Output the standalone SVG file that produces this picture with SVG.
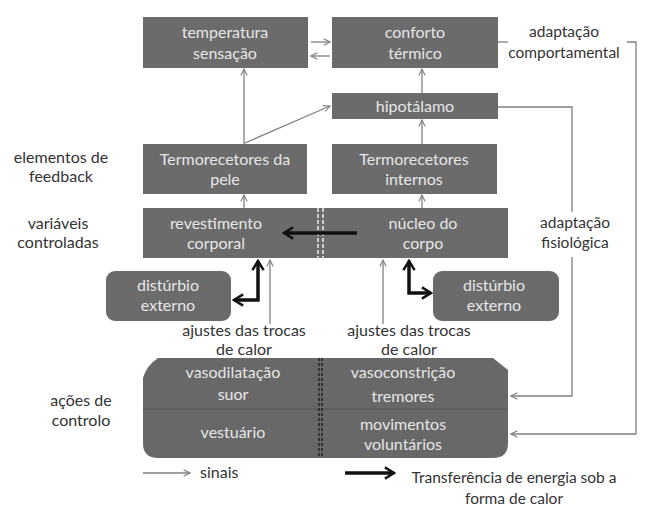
<svg xmlns="http://www.w3.org/2000/svg" width="654" height="519" viewBox="0 0 654 519">
<defs>
<style>
.box{fill:#6b6b6b}
.bt{font-family:Lato,"Open Sans",sans-serif;font-size:16px;fill:#e6e6e6;text-anchor:middle}
.lt{font-family:Lato,"Open Sans",sans-serif;font-size:15.5px;fill:#333;text-anchor:middle}
.lb{font-size:16px}
.thin{fill:none;stroke:#808080;stroke-width:1.3}
.thick{fill:none;stroke:#111;stroke-width:3.5}
</style>
<marker id="ah" viewBox="0 0 10 10" refX="9" refY="5" markerWidth="8" markerHeight="8" markerUnits="userSpaceOnUse" orient="auto-start-reverse">
<path d="M1,1 L9,5 L1,9" fill="none" stroke="#808080" stroke-width="1.4"/>
</marker>
<marker id="ahk" viewBox="0 0 10 10" refX="8.5" refY="5" markerWidth="4" markerHeight="4" orient="auto-start-reverse">
<path d="M2,1 L8.5,5 L2,9" fill="none" stroke="#111" stroke-width="1.8"/>
</marker>
</defs>
<rect width="654" height="519" fill="#fff"/>

<g id="temperatura"><rect class="box" x="143" y="17" width="165" height="51"/><text class="bt" x="225" y="38">temperatura</text><text class="bt" x="225" y="59">sensação</text></g>
<g id="conforto"><rect class="box" x="332" y="17" width="166" height="51"/><text class="bt" x="415" y="38">conforto</text><text class="bt" x="415" y="59">térmico</text></g>
<g id="hipotalamo"><rect class="box" x="332" y="93" width="166" height="26"/><text class="bt" x="415" y="112">hipotálamo</text></g>
<g id="pele"><rect class="box" x="143" y="144" width="164" height="50"/><text class="bt" x="225" y="165">Termorecetores da</text><text class="bt" x="225" y="185">pele</text></g>
<g id="internos"><rect class="box" x="332" y="144" width="165" height="50"/><text class="bt" x="414" y="165">Termorecetores</text><text class="bt" x="414" y="185">internos</text></g>
<g id="variaveis"><rect class="box" x="143" y="208" width="365" height="50"/>
<line x1="318" y1="208" x2="318" y2="258" stroke="#eee" stroke-width="1.5" stroke-dasharray="4,2"/>
<line x1="323" y1="208" x2="323" y2="258" stroke="#eee" stroke-width="1.5" stroke-dasharray="4,2"/>
<text class="bt" x="216" y="229">revestimento</text><text class="bt" x="216" y="249">corporal</text>
<text class="bt" x="423" y="229">núcleo do</text><text class="bt" x="423" y="249">corpo</text></g>
<g id="disturbio1"><rect class="box" x="106" y="271" width="125" height="50" rx="9"/><text class="bt" x="168" y="291">distúrbio</text><text class="bt" x="168" y="311">externo</text></g>
<g id="disturbio2"><rect class="box" x="433" y="271" width="126" height="50" rx="9"/><text class="bt" x="494" y="291">distúrbio</text><text class="bt" x="494" y="311">externo</text></g>
<g id="acoes"><path d="M158,358 L493,358 L508,370 L508,443 Q508,458 493,458 L158,458 Q143,458 143,443 L143,378 Q146,366 158,358 Z" fill="#686868"/>
<line x1="143" y1="409" x2="508" y2="409" stroke="#555" stroke-width="1.2"/>
<line x1="319" y1="358" x2="319" y2="458" stroke="#222" stroke-width="1.5" stroke-dasharray="3,2"/>
<line x1="322" y1="358" x2="322" y2="458" stroke="#222" stroke-width="1.5" stroke-dasharray="3,2"/>
<text class="bt" x="233" y="378">vasodilatação</text><text class="bt" x="233" y="400">suor</text><text class="bt" x="233" y="438">vestuário</text>
<text class="bt" x="403" y="378">vasoconstrição</text><text class="bt" x="403" y="402">tremores</text><text class="bt" x="403" y="430">movimentos</text><text class="bt" x="403" y="450">voluntários</text></g>

<g id="labels">
<text class="lt lb" x="61" y="163">elementos de</text><text class="lt lb" x="61" y="182">feedback</text>
<text class="lt lb" x="58" y="229">variáveis</text><text class="lt lb" x="58" y="248">controladas</text>
<text class="lt lb" x="81" y="406">ações de</text><text class="lt lb" x="81" y="426">controlo</text>
<text class="lt" x="564" y="37">adaptação</text><text class="lt" x="564" y="58">comportamental</text>
<text class="lt" x="575" y="228">adaptação</text><text class="lt" x="575" y="248">fisiológica</text>
<text class="lt lb" x="244" y="336">ajustes das trocas</text><text class="lt lb" x="244" y="355">de calor</text>
<text class="lt lb" x="409" y="336">ajustes das trocas</text><text class="lt lb" x="409" y="355">de calor</text>
<text class="lt lb" x="200" y="478" style="text-anchor:start">sinais</text>
<text class="lt" x="514" y="483">Transferência de energia sob a</text><text class="lt" x="514" y="504">forma de calor</text>
</g>

<g id="connectors">
<line class="thin" x1="311" y1="42" x2="330" y2="42" marker-end="url(#ah)"/>
<line class="thin" x1="330" y1="56" x2="311" y2="56" marker-end="url(#ah)"/>
<line class="thin" x1="244" y1="144" x2="244" y2="69" marker-end="url(#ah)"/>
<line class="thin" x1="245" y1="143" x2="330" y2="106" marker-end="url(#ah)"/>
<line class="thin" x1="422" y1="93" x2="422" y2="69" marker-end="url(#ah)"/>
<line class="thin" x1="422" y1="144" x2="422" y2="120" marker-end="url(#ah)"/>
<line class="thin" x1="244" y1="208" x2="244" y2="195" marker-end="url(#ah)"/>
<line class="thin" x1="422" y1="208" x2="422" y2="195" marker-end="url(#ah)"/>
<line class="thin" x1="270" y1="324" x2="270" y2="260" marker-end="url(#ah)"/>
<line class="thin" x1="383" y1="324" x2="383" y2="260" marker-end="url(#ah)"/>
<polyline class="thin" points="498,42 508,42"/>
<polyline class="thin" points="627,42 636,42 636,434 511,434" marker-end="url(#ah)"/>
<polyline class="thin" points="498,107 572,107 572,212"/>
<polyline class="thin" points="572,257 572,396 511,396" marker-end="url(#ah)"/>
<line class="thick" x1="357" y1="233" x2="284" y2="233" marker-end="url(#ahk)"/>
<path class="thick" d="M258,261 V300 H234" marker-start="url(#ahk)" marker-end="url(#ahk)"/>
<path class="thick" d="M409,261 V293 H431" marker-start="url(#ahk)" marker-end="url(#ahk)"/>
<line class="thin" x1="143" y1="473" x2="190" y2="473" marker-end="url(#ah)"/>
<line class="thick" x1="345" y1="473" x2="394" y2="473" marker-end="url(#ahk)"/>
</g>
</svg>
